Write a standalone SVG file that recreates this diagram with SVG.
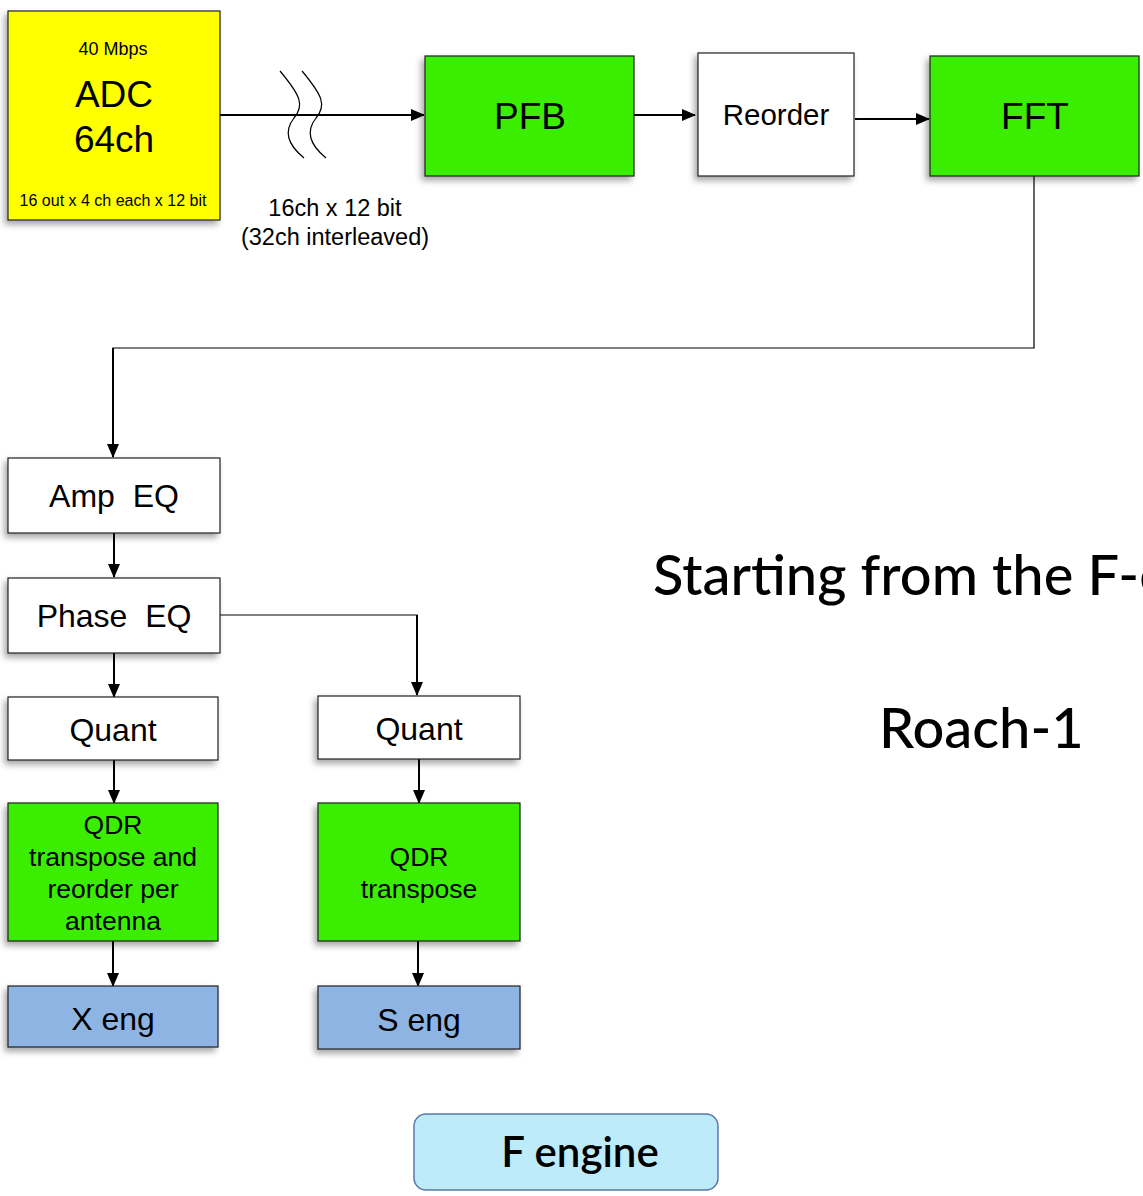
<svg xmlns="http://www.w3.org/2000/svg" width="1143" height="1196" viewBox="0 0 1143 1196">
  <defs>
    <filter id="shadow" x="-10%" y="-10%" width="125%" height="130%">
      <feDropShadow dx="-3" dy="4" stdDeviation="3" flood-color="#000" flood-opacity="0.35"/>
    </filter>
    <marker id="arrow" viewBox="0 0 14 12" refX="13" refY="6" markerWidth="14" markerHeight="12" markerUnits="userSpaceOnUse" orient="auto">
      <path d="M0,0 L14,6 L0,12 Z" fill="#000"/>
    </marker>
  </defs>
  <style>
    .box { stroke: #222; stroke-width: 1.2; filter: url(#shadow); }
    .green { fill: #3AEE00; }
    .white { fill: #ffffff; }
    .yellow { fill: #FFFF00; }
    .blue { fill: #8EB4E3; }
    .lbl { font-family: "Liberation Sans", Arial, sans-serif; fill: #000; text-anchor: middle; }
    .wire { fill: none; stroke: #000; stroke-width: 2; }
    .thin { fill: none; stroke: #000; stroke-width: 1.2; }
    .title { font-family: Lato, "Open Sans", sans-serif; fill: #000; }
  </style>
  <rect width="1143" height="1196" fill="#fff"/>

  <!-- connectors -->
  <g id="connectors">
    <line class="wire" x1="220" y1="115" x2="424" y2="115" marker-end="url(#arrow)"/>
    <!-- line-break symbol on the ADC link -->
    <path class="thin" d="M280,71 C300,95 305,105 294,118 C283,132 288,145 304,158"/>
    <path class="thin" d="M302,71 C322,95 327,105 316,118 C305,132 310,145 326,158"/>
    <line class="wire" x1="634" y1="115" x2="695" y2="115" marker-end="url(#arrow)"/>
    <line class="wire" x1="855" y1="119" x2="929" y2="119" marker-end="url(#arrow)"/>
    <polyline class="thin" points="1034,176 1034,348 113,348 113,400"/>
    <line class="wire" x1="113" y1="348" x2="113" y2="457" marker-end="url(#arrow)"/>
    <line class="wire" x1="114" y1="533" x2="114" y2="577" marker-end="url(#arrow)"/>
    <polyline class="thin" points="220,615 417,615 417,640"/>
    <line class="wire" x1="417" y1="615" x2="417" y2="695" marker-end="url(#arrow)"/>
    <line class="wire" x1="114" y1="653" x2="114" y2="697" marker-end="url(#arrow)"/>
    <line class="wire" x1="114" y1="760" x2="114" y2="803" marker-end="url(#arrow)"/>
    <line class="wire" x1="419" y1="759" x2="419" y2="803" marker-end="url(#arrow)"/>
    <line class="wire" x1="113" y1="941" x2="113" y2="986" marker-end="url(#arrow)"/>
    <line class="wire" x1="418" y1="941" x2="418" y2="986" marker-end="url(#arrow)"/>
  </g>

  <g id="adc">
    <rect class="box yellow" x="8" y="11" width="212" height="209"/>
    <text class="lbl" x="113" y="55" font-size="18">40 Mbps</text>
    <text class="lbl" x="114" y="107" font-size="37">ADC</text>
    <text class="lbl" x="114" y="152" font-size="37">64ch</text>
    <text class="lbl" x="113" y="206" font-size="16">16 out x 4 ch each x 12 bit</text>
  </g>

  <g id="link-label">
    <text class="lbl" x="335" y="216" font-size="23.5">16ch x 12 bit</text>
    <text class="lbl" x="335" y="245" font-size="23.5">(32ch interleaved)</text>
  </g>

  <g id="pfb">
    <rect class="box green" x="425" y="56" width="209" height="120"/>
    <text class="lbl" x="530" y="129" font-size="37">PFB</text>
  </g>

  <g id="reorder">
    <rect class="box white" x="698" y="53" width="156" height="123"/>
    <text class="lbl" x="776" y="125" font-size="29.5">Reorder</text>
  </g>

  <g id="fft">
    <rect class="box green" x="930" y="56" width="209" height="120"/>
    <text class="lbl" x="1035" y="129" font-size="37">FFT</text>
  </g>

  <g id="amp-eq">
    <rect class="box white" x="8" y="458" width="212" height="75"/>
    <text class="lbl" x="114" y="507" font-size="32" xml:space="preserve">Amp  EQ</text>
  </g>

  <g id="phase-eq">
    <rect class="box white" x="8" y="578" width="212" height="75"/>
    <text class="lbl" x="114" y="627" font-size="32" xml:space="preserve">Phase  EQ</text>
  </g>

  <g id="quant-x">
    <rect class="box white" x="8" y="697" width="210" height="63"/>
    <text class="lbl" x="113" y="741" font-size="32">Quant</text>
  </g>

  <g id="quant-s">
    <rect class="box white" x="318" y="696" width="202" height="63"/>
    <text class="lbl" x="419" y="740" font-size="32">Quant</text>
  </g>

  <g id="qdr-x">
    <rect class="box green" x="8" y="803" width="210" height="138"/>
    <text class="lbl" font-size="26.5"><tspan x="113" y="834">QDR</tspan><tspan x="113" y="866">transpose and</tspan><tspan x="113" y="898">reorder per</tspan><tspan x="113" y="930">antenna</tspan></text>
  </g>

  <g id="qdr-s">
    <rect class="box green" x="318" y="803" width="202" height="138"/>
    <text class="lbl" font-size="26.5"><tspan x="419" y="866">QDR</tspan><tspan x="419" y="898">transpose</tspan></text>
  </g>

  <g id="x-eng">
    <rect class="box blue" x="8" y="986" width="210" height="61"/>
    <text class="lbl" x="113" y="1030" font-size="32">X eng</text>
  </g>

  <g id="s-eng">
    <rect class="box blue" x="318" y="986" width="202" height="63"/>
    <text class="lbl" x="419" y="1031" font-size="32">S eng</text>
  </g>

  <g id="f-engine">
    <rect x="414" y="1114" width="304" height="76" rx="12" ry="12" fill="#BDEBFA" stroke="#5A78A8" stroke-width="1.5"/>
    <text class="title" x="580" y="1167" font-size="42" font-weight="600" text-anchor="middle">F engine</text>
  </g>

  <g id="headline">
    <text class="title" x="653" y="595" font-size="56" font-weight="500">Starting from the F-e</text>
    <text class="title" x="879" y="748" font-size="56" font-weight="500">Roach-1</text>
  </g>
</svg>
